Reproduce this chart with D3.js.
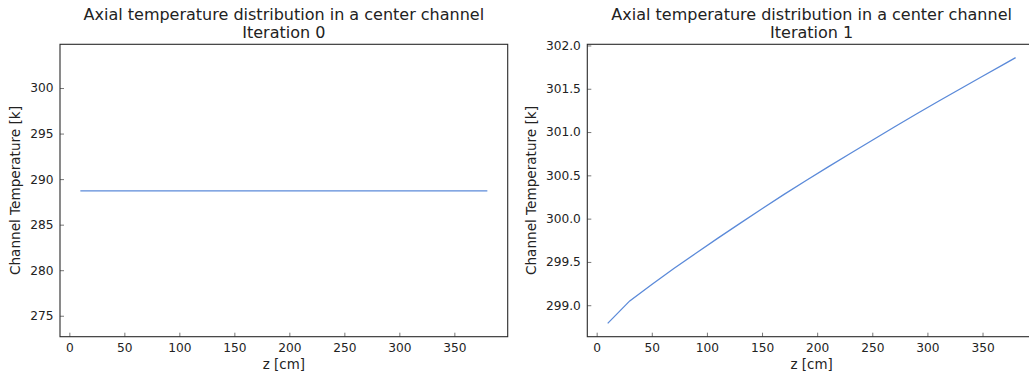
<!DOCTYPE html>
<html>
<head>
<meta charset="utf-8">
<script src="https://cdn.jsdelivr.net/npm/d3@7"></script>
<style>
  html, body { margin: 0; padding: 0; background: #fff; }
  svg { display: block; font-family: "DejaVu Sans", sans-serif; }
</style>
</head>
<body>
<svg id="chart" width="1029" height="377"></svg>
<script>
// ---- data ----
const zPositions = [10, 30, 50, 70, 90, 110, 130, 150, 170, 190, 210, 230, 250, 270, 290, 310, 330, 350, 370, 380];
const tempIter0 = [288.7, 288.7, 288.7, 288.7, 288.7, 288.7, 288.7, 288.7, 288.7, 288.7, 288.7, 288.7, 288.7, 288.7, 288.7, 288.7, 288.7, 288.7, 288.7, 288.7];
const tempIter1 = [298.79, 299.05, 299.24, 299.425, 299.60, 299.775, 299.945, 300.115, 300.28, 300.44, 300.598, 300.753, 300.906, 301.058, 301.208, 301.356, 301.50, 301.644, 301.787, 301.86];
const xTicks = [0, 50, 100, 150, 200, 250, 300, 350];
const yTicks0 = [275, 280, 285, 290, 295, 300];
const yTicks1 = [299.0, 299.5, 300.0, 300.5, 301.0, 301.5, 302.0];
const xDomain = [-8.5, 398.5];
const yDomain0 = [272.7, 304.8];
const yDomain1 = [298.6365, 302.0135];
const titleLine1 = "Axial temperature distribution in a center channel";
const titles2 = ["Iteration 0", "Iteration 1"];
const xLabel = "z [cm]";
const yLabel = "Channel Temperature [k]";

const svg = d3.select("#chart");
const plotTop = 44.3, plotBottom = 336.7;

const panels = [
  { x0: 60, x1: 507.7, y: tempIter0, yDomain: yDomain0, yTicks: yTicks0, fmt: d3.format("d"), title2: titles2[0], ylx: 15 },
  { x0: 587.3, x1: 1036, y: tempIter1, yDomain: yDomain1, yTicks: yTicks1, fmt: d3.format(".1f"), title2: titles2[1], ylx: 531 }
];

panels.forEach(p => {
  const g = svg.append("g");
  const x = d3.scaleLinear().domain(xDomain).range([p.x0, p.x1]);
  const y = d3.scaleLinear().domain(p.yDomain).range([plotBottom, plotTop]);

  // line
  const line = d3.line().x((d, i) => x(zPositions[i])).y(d => y(d));
  g.append("path").datum(p.y)
    .attr("fill", "none")
    .attr("stroke", "#5b8ad9")
    .attr("stroke-width", 1.3)
    .attr("d", line);

  // axes
  const xa = g.append("g").attr("transform", `translate(0,${plotBottom})`)
    .call(d3.axisBottom(x).tickValues(xTicks).tickSizeInner(-4).tickSizeOuter(0).tickPadding(7).tickFormat(d3.format("d")));
  const ya = g.append("g").attr("transform", `translate(${p.x0},0)`)
    .call(d3.axisLeft(y).tickValues(p.yTicks).tickSizeInner(-4).tickSizeOuter(0).tickPadding(6.5).tickFormat(p.fmt));
  [xa, ya].forEach(a => {
    a.select(".domain").remove();
    a.selectAll(".tick line").attr("stroke", "#777").attr("stroke-width", 1);
    a.selectAll(".tick text").attr("fill", "#222").style("font-size", "12.2px").style("font-family", "DejaVu Sans");
  });

  // frame
  g.append("rect")
    .attr("x", p.x0).attr("y", plotTop)
    .attr("width", p.x1 - p.x0).attr("height", plotBottom - plotTop)
    .attr("fill", "none").attr("stroke", "#2a2a2a").attr("stroke-width", 1.1);

  const cx = (p.x0 + p.x1) / 2;
  // titles
  g.append("text").attr("x", cx).attr("y", 20).attr("text-anchor", "middle")
    .attr("fill", "#222").style("font-size", "16px").text(titleLine1);
  g.append("text").attr("x", cx).attr("y", 37.5).attr("text-anchor", "middle")
    .attr("fill", "#222").style("font-size", "16px").text(p.title2);

  // axis labels
  g.append("text").attr("x", cx).attr("y", 369).attr("text-anchor", "middle")
    .attr("fill", "#222").style("font-size", "13.4px").text(xLabel);
  g.append("text").attr("transform", `translate(${p.ylx},${(plotTop + plotBottom) / 2}) rotate(-90)`)
    .attr("text-anchor", "middle").attr("dy", "0.35em")
    .attr("fill", "#222").style("font-size", "13.6px").text(yLabel);
});
</script>
</body>
</html>
